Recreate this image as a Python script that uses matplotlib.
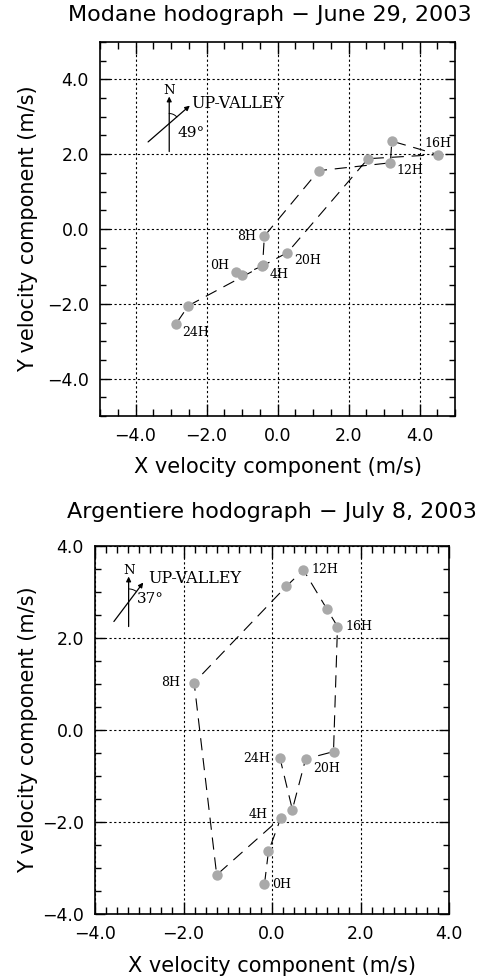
import numpy as np
import matplotlib
matplotlib.use('Agg')
import matplotlib.pyplot as plt
from matplotlib import ticker, transforms

# Modane, June 29, 2003 (every 2 hours)
modane_hours = [0, 2, 4, 6, 8, 10, 12, 14, 16, 18, 20, 22, 24]
modane_u = [-1.16, -1.01, -0.43, -0.42, -0.37, 1.16, 3.18, 3.22, 4.52, 2.55, 0.28, -2.51, -2.86]
modane_v = [-1.14, -1.23, -0.99, -0.97, -0.19, 1.56, 1.77, 2.35, 1.99, 1.88, -0.63, -2.05, -2.54]
modane_angle = 49

# Argentiere, July 8, 2003 (every 2 hours)
argent_hours = [0, 2, 4, 6, 8, 10, 12, 14, 16, 18, 20, 22, 24]
argent_u = [-0.17, -0.08, 0.20, -1.25, -1.76, 0.32, 0.71, 1.24, 1.48, 1.39, 0.76, 0.46, 0.18]
argent_v = [-3.35, -2.64, -1.91, -3.15, 1.03, 3.12, 3.48, 2.63, 2.25, -0.47, -0.63, -1.73, -0.61]
argent_angle = 37

labelled_hours = [0, 4, 8, 12, 16, 20, 24]

SANS = 'DejaVu Sans'
SERIF = 'DejaVu Serif'


def fmt(x, pos):
    return f'{x:.1f}'.replace('-', '\u2212')


def style_axes(ax, lim, xminor, yminor):
    ax.set_xlim(-lim, lim)
    ax.set_ylim(-lim, lim)
    ax.xaxis.set_major_locator(ticker.MultipleLocator(2))
    ax.yaxis.set_major_locator(ticker.MultipleLocator(2))
    ax.xaxis.set_minor_locator(ticker.MultipleLocator(xminor))
    ax.yaxis.set_minor_locator(ticker.MultipleLocator(yminor))
    ax.xaxis.set_major_formatter(ticker.FuncFormatter(fmt))
    ax.yaxis.set_major_formatter(ticker.FuncFormatter(fmt))
    ax.tick_params(which='both', direction='in', top=True, right=True,
                   width=1.0, labelsize=12.5, pad=8)
    ax.tick_params(axis='x', which='major', length=8.5)
    ax.tick_params(axis='x', which='minor', length=5)
    ax.tick_params(axis='y', which='major', length=7.5)
    ax.tick_params(axis='y', which='minor', length=4)
    for lab in ax.get_xticklabels() + ax.get_yticklabels():
        lab.set_family(SANS)
    for sp in ax.spines.values():
        sp.set_linewidth(1.2)
    ax.grid(True, which='major', color='black', lw=0.8, linestyle=(0, (2, 2.2)))
    ax.set_axisbelow(True)
    ax.set_xlabel('X velocity component (m/s)', fontsize=15, family=SANS)
    ax.set_ylabel('Y velocity component (m/s)', fontsize=15, family=SANS)
    ax.xaxis.label.set_va('center')
    ax.yaxis.label.set_va('center')


def hodograph(ax, hours, u, v, offsets):
    ax.plot(u, v, color='black', lw=0.8, dashes=(11, 7), zorder=3)
    ax.plot(u, v, 'o', ms=7.5, color='#a9a9a9', mec='none', zorder=4)
    for h in labelled_hours:
        i = hours.index(h)
        dx, dy, ha = offsets[h]
        ax.annotate(f'{h}H', (u[i], v[i]), xytext=(dx, dy), textcoords='offset points',
                    ha=ha, va='center', fontsize=9, family=SERIF, zorder=5)


def compass(fig, ax, anchor, angle, n_len, uv_len, arc_r, uv_txt, ang_txt):
    # offsets in inches around the crossing point (dpi 100 -> 0.01 in per px)
    tr = fig.dpi_scale_trans + transforms.ScaledTranslation(anchor[0], anchor[1], ax.transAxes)
    ap = dict(arrowstyle='-|>', lw=0.9, color='black', mutation_scale=7, shrinkA=0, shrinkB=0)
    ax.annotate('', xy=(0, n_len[1]), xytext=(0, -n_len[0]), xycoords=tr, textcoords=tr, arrowprops=ap)
    s, c = np.sin(np.radians(angle)), np.cos(np.radians(angle))
    ax.annotate('', xy=(uv_len[1] * s, uv_len[1] * c), xytext=(-uv_len[0] * s, -uv_len[0] * c),
                xycoords=tr, textcoords=tr, arrowprops=ap)
    th = np.radians(np.linspace(90, 90 - angle, 30))
    ax.plot(arc_r * np.cos(th), arc_r * np.sin(th), transform=tr, color='black', lw=0.7)
    ax.text(0, n_len[1] + 0.065, 'N', transform=tr, ha='center', va='center', fontsize=9.5, family=SERIF)
    ax.text(uv_txt[0], uv_txt[1], 'UP-VALLEY', transform=tr, ha='left', va='center',
            fontsize=11.5, family=SERIF)
    ax.text(ang_txt[0], ang_txt[1], f'{angle}\u00b0', transform=tr, ha='left', va='center',
            fontsize=11, family=SERIF)


fig = plt.figure(figsize=(4.92, 9.77), dpi=100)

# --- Modane ---
ax1 = fig.add_axes([100 / 492, 561 / 977, 355 / 492, 374 / 977])
style_axes(ax1, 5, 0.5, 0.5)
ax1.xaxis.set_label_coords(0.5, -0.137)
ax1.yaxis.set_label_coords(-0.203, 0.5)
modane_off = {0: (-5, 4.3, 'right'), 4: (5, -5.8, 'left'), 8: (-5.8, 0, 'right'),
              12: (4, -5.8, 'left'), 16: (0, 8, 'center'), 20: (4.5, -5.8, 'left'),
              24: (4.8, -5.8, 'left')}
hodograph(ax1, modane_hours, modane_u, modane_v, modane_off)
compass(fig, ax1, (0.195, 0.782), modane_angle, (0.28, 0.27), (0.28, 0.273), 0.10,
        (0.224, 0.203), (0.08, -0.097))
fig.text(270 / 492, 1 - 15 / 977, 'Modane hodograph \u2212 June 29, 2003',
         ha='center', va='center', fontsize=16, family=SANS)

# --- Argentiere ---
ax2 = fig.add_axes([95 / 492, 63 / 977, 354 / 492, 368 / 977])
style_axes(ax2, 4, 0.25, 0.5)
ax2.xaxis.set_label_coords(0.5, -0.142)
ax2.yaxis.set_label_coords(-0.189, 0.5)
argent_off = {0: (5.8, 0, 'left'), 4: (-9.4, 2.5, 'right'), 8: (-10, 0, 'right'),
              12: (5.8, 0, 'left'), 16: (5.5, 0, 'left'), 20: (5.5, -7, 'left'),
              24: (-7, 0, 'right')}
hodograph(ax2, argent_hours, argent_u, argent_v, argent_off)
compass(fig, ax2, (0.095, 0.848), argent_angle, (0.246, 0.254), (0.245, 0.243), 0.13,
        (0.196, 0.234), (0.08, 0.031))
fig.text(272 / 492, 1 - 512.5 / 977, 'Argentiere hodograph \u2212 July 8, 2003',
         ha='center', va='center', fontsize=16, family=SANS)

fig.savefig('out.png', dpi=100)
